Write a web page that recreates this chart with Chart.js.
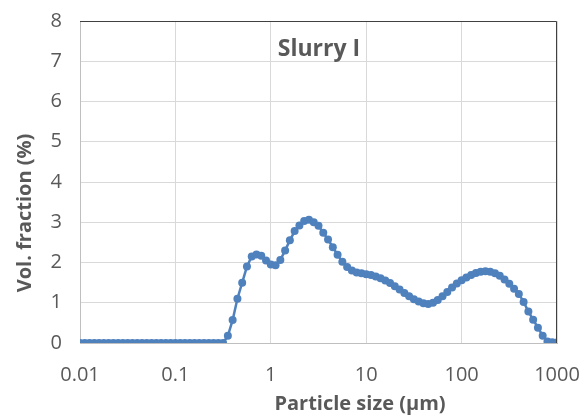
<!DOCTYPE html>
<html>
<head>
<meta charset="utf-8">
<script src="https://cdn.jsdelivr.net/npm/chart.js@4/dist/chart.umd.min.js"></script>
<style>
  html, body { margin: 0; padding: 0; background: #fff; }
  #wrap { width: 584px; height: 416px; }
</style>
</head>
<body>
<div id="wrap"><canvas id="myChart" width="584" height="416"></canvas></div>
<script>
// 101 size classes, 20 per decade, from 0.01 to 1000 um
const sizes = [];
for (let i = 0; i <= 100; i++) sizes.push(+(0.01 * Math.pow(10, i / 20)).toPrecision(4));

// volume fraction (%)
const volFraction = [
  0, 0, 0, 0, 0, 0, 0, 0, 0, 0,
  0, 0, 0, 0, 0, 0, 0, 0, 0, 0,
  0, 0, 0, 0, 0, 0, 0, 0, 0, 0,
  0, 0.18, 0.57, 1.1, 1.5, 1.9, 2.15, 2.2, 2.17, 2.05,
  1.95, 1.93, 2.06, 2.3, 2.55, 2.78, 2.92, 3.03, 3.06, 3.0,
  2.91, 2.74, 2.57, 2.38, 2.19, 2.02, 1.89, 1.8, 1.75, 1.73,
  1.71, 1.69, 1.65, 1.61, 1.55, 1.49, 1.41, 1.33, 1.24, 1.16,
  1.09, 1.03, 0.99, 0.97, 1.0, 1.07, 1.16, 1.27, 1.38, 1.48,
  1.56, 1.63, 1.69, 1.74, 1.77, 1.78, 1.77, 1.73, 1.67, 1.58,
  1.47, 1.35, 1.22, 1.02, 0.78, 0.58, 0.38, 0.18, 0.04, 0.02,
  0.01
];

const xTicks = [0.01, 0.1, 1, 10, 100, 1000];
const xTickLabels = ["0.01", "0.1", "1", "10", "100", "1000"];
const chartTitle = "Slurry I";
const xTitle = "Particle size (\u00b5m)";
const yTitle = "Vol. fraction (%)";

const FONT = "'Open Sans', sans-serif";
const TEXT = "#595959";

// titles and the dark top/right frame
const extras = {
  id: "extras",
  afterDraw(chart) {
    const { ctx, chartArea: a } = chart;
    ctx.save();
    ctx.strokeStyle = "#404040";
    ctx.lineWidth = 1;
    ctx.beginPath();
    ctx.moveTo(a.left, a.top + 0.5);
    ctx.lineTo(a.right - 0.5, a.top + 0.5);
    ctx.lineTo(a.right - 0.5, a.bottom);
    ctx.stroke();

    ctx.fillStyle = TEXT;
    ctx.textAlign = "center";
    ctx.textBaseline = "middle";
    ctx.font = "bold 23px " + FONT;
    ctx.fillText(chartTitle, 319, 49);
    ctx.font = "bold 20px " + FONT;
    ctx.fillText(xTitle, 360, 404);
    ctx.translate(25, 213);
    ctx.rotate(-Math.PI / 2);
    ctx.fillText(yTitle, 0, 0);
    ctx.restore();
  }
};

// let layout.padding alone decide the free space round the plot
function noLabelPadding(s) {
  s.paddingTop = 0;
  s.paddingBottom = 0;
  s.paddingLeft = 0;
  s.paddingRight = 0;
}

const ctx = document.getElementById("myChart").getContext("2d");
new Chart(ctx, {
  type: "line",
  data: {
    datasets: [{
      label: chartTitle,
      data: sizes.map((s, i) => ({ x: s, y: volFraction[i] })),
      borderColor: "#4f81bd",
      backgroundColor: "#4f81bd",
      borderWidth: 2.5,
      pointRadius: 4,
      pointBorderWidth: 0,
      tension: 0
    }]
  },
  options: {
    responsive: false,
    animation: false,
    layout: { padding: { left: 0, right: 27, top: 21, bottom: 0 } },
    plugins: { legend: { display: false }, tooltip: { enabled: false } },
    scales: {
      x: {
        type: "logarithmic",
        min: 0.01,
        max: 1000,
        afterBuildTicks: (s) => { s.ticks = xTicks.map((v) => ({ value: v })); },
        afterFit: (s) => { s.height = 73; noLabelPadding(s); },
        ticks: {
          color: TEXT,
          font: { family: FONT, size: 20 },
          padding: 20,
          maxRotation: 0,
          autoSkip: false,
          callback: (v) => xTickLabels[xTicks.indexOf(v)] ?? ""
        },
        grid: { color: "#d9d9d9", drawTicks: false },
        border: { color: "#bfbfbf" }
      },
      y: {
        min: 0,
        max: 8,
        afterFit: (s) => { s.width = 80; noLabelPadding(s); },
        ticks: {
          stepSize: 1,
          color: TEXT,
          font: { family: FONT, size: 20 },
          padding: 18
        },
        grid: { color: "#d9d9d9", drawTicks: false },
        border: { color: "#bfbfbf" }
      }
    }
  },
  plugins: [extras]
});
</script>
</body>
</html>
